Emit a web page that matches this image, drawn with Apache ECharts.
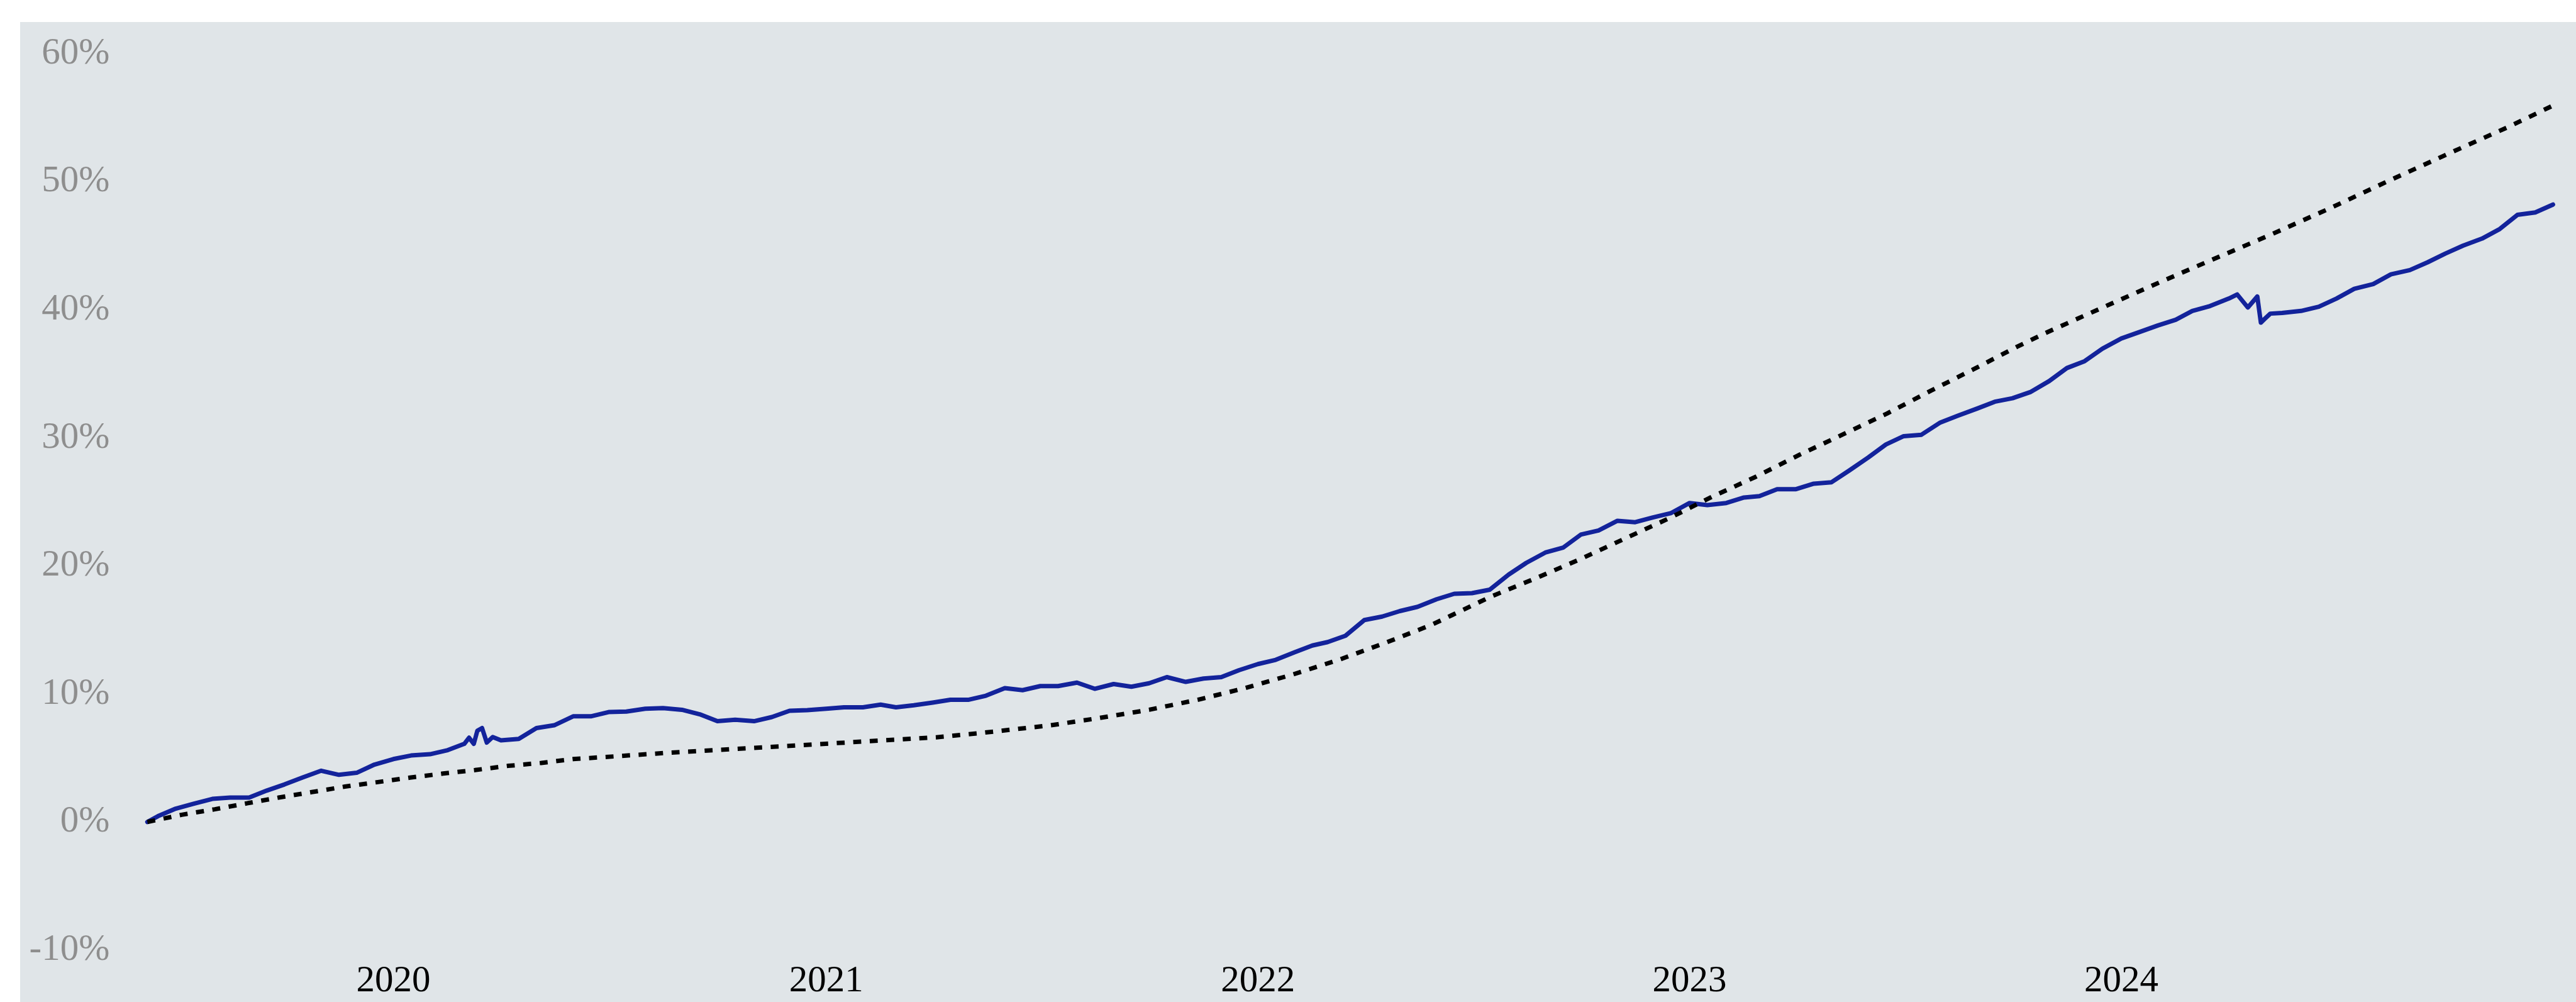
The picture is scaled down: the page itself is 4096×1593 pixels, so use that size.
<!DOCTYPE html>
<html>
<head>
<meta charset="utf-8">
<script src="https://cdn.jsdelivr.net/npm/echarts@6/dist/echarts.min.js"></script>
<style>
html,body{margin:0;padding:0;background:#ffffff;}
#chart{width:4096px;height:1593px;}
</style>
</head>
<body>
<div id="chart"></div>
<script>
// ---------- data ----------
const portfolioDates = [
'2019-06-07','2019-06-16','2019-07-01','2019-07-16','2019-08-01','2019-08-16','2019-09-01','2019-09-16',
'2019-10-01','2019-10-16','2019-11-01','2019-11-16','2019-12-01','2019-12-16',
'2020-01-01','2020-01-16','2020-02-01','2020-02-16','2020-03-01','2020-03-05','2020-03-09','2020-03-12',
'2020-03-16','2020-03-20','2020-03-25','2020-04-01','2020-04-16','2020-05-01','2020-05-16','2020-06-01',
'2020-06-16','2020-07-01','2020-07-16','2020-08-01','2020-08-16','2020-09-01','2020-09-16','2020-10-01',
'2020-10-16','2020-11-01','2020-11-16','2020-12-01','2020-12-16',
'2021-01-01','2021-01-16','2021-02-01','2021-02-16','2021-03-01','2021-03-16','2021-04-01','2021-04-16',
'2021-05-01','2021-05-16','2021-06-01','2021-06-16','2021-07-01','2021-07-16','2021-08-01','2021-08-16',
'2021-09-01','2021-09-16','2021-10-01','2021-10-16','2021-11-01','2021-11-16','2021-12-01','2021-12-16',
'2022-01-01','2022-01-16','2022-02-01','2022-02-16','2022-03-01','2022-03-16','2022-04-01','2022-04-16',
'2022-05-01','2022-05-16','2022-06-01','2022-06-16','2022-07-01','2022-07-16','2022-08-01','2022-08-16',
'2022-09-01','2022-09-16','2022-10-01','2022-10-16','2022-11-01','2022-11-16','2022-12-01','2022-12-16',
'2023-01-01','2023-01-16','2023-02-01','2023-02-16','2023-03-01','2023-03-16','2023-04-01','2023-04-16',
'2023-05-01','2023-05-16','2023-06-01','2023-06-16','2023-07-01','2023-07-16','2023-08-01','2023-08-16',
'2023-09-01','2023-09-16','2023-10-01','2023-10-16','2023-11-01','2023-11-16','2023-12-01','2023-12-16',
'2024-01-01','2024-01-16','2024-02-01','2024-02-16','2024-03-01','2024-03-16','2024-04-01','2024-04-08',
'2024-04-17','2024-04-25','2024-04-28','2024-05-01','2024-05-06','2024-05-16','2024-06-01','2024-06-16',
'2024-07-01','2024-07-16','2024-08-01','2024-08-16','2024-09-01','2024-09-16','2024-10-01','2024-10-16',
'2024-11-01','2024-11-16','2024-12-01','2024-12-16','2024-12-31'
];
const portfolioValues = [
0.00,0.45,1.04,1.42,1.80,1.90,1.90,2.45,
2.93,3.46,4.00,3.68,3.84,4.48,
4.91,5.19,5.29,5.61,6.10,6.58,6.10,7.12,
7.33,6.20,6.63,6.37,6.48,7.33,7.55,8.25,
8.25,8.58,8.62,8.84,8.89,8.76,8.41,7.87,
7.98,7.87,8.19,8.68,8.73,
8.84,8.95,8.95,9.16,8.95,9.11,9.32,9.54,
9.54,9.86,10.45,10.29,10.61,10.61,10.88,10.40,
10.77,10.56,10.83,11.31,10.94,11.20,11.31,11.85,
12.33,12.66,13.25,13.78,14.05,14.54,15.77,16.04,
16.47,16.80,17.39,17.82,17.87,18.14,19.32,20.24,
21.04,21.42,22.44,22.76,23.52,23.41,23.78,24.11,
24.91,24.75,24.91,25.34,25.45,25.99,25.99,26.42,
26.53,27.45,28.46,29.48,30.13,30.24,31.20,31.74,
32.28,32.82,33.09,33.57,34.43,35.45,35.99,36.96,
37.76,38.25,38.78,39.22,39.91,40.29,40.88,41.20,
40.18,41.04,39.00,39.27,39.70,39.75,39.91,40.24,
40.88,41.64,42.01,42.77,43.10,43.71,44.39,45.01,
45.56,46.31,47.42,47.60,48.22
];
const benchmarkDates = [
'2019-06-07','2019-07-06','2019-08-03','2019-08-31','2019-09-26','2019-10-24','2019-11-21','2019-12-17',
'2020-01-15','2020-02-12','2020-03-10','2020-04-07','2020-05-05','2020-06-01','2020-06-28','2020-08-23',
'2020-10-18','2020-12-13','2021-02-07','2021-04-04','2021-05-15','2021-05-29','2021-07-10','2021-08-20',
'2021-10-01','2021-11-11','2021-12-21','2022-01-31','2022-03-11','2022-04-19','2022-05-28','2022-06-14',
'2022-07-17','2022-08-23','2022-09-30','2022-11-07','2022-12-15','2023-01-20','2023-02-26','2023-04-04',
'2023-05-10','2023-06-17','2023-07-24','2023-08-30','2023-10-05','2023-10-29','2023-12-19','2024-02-07',
'2024-03-16','2024-05-05','2024-06-25','2024-08-14','2024-10-03','2024-11-23','2024-12-31'
];
const benchmarkValues = [
0.00,0.56,0.99,1.47,1.90,2.33,2.76,3.09,
3.46,3.78,4.05,4.38,4.61,4.91,5.07,5.42,
5.71,6.01,6.31,6.61,6.98,7.12,7.55,8.12,
8.76,9.54,10.45,11.53,12.68,14.00,15.40,16.15,
17.60,19.00,20.50,22.12,23.73,25.40,26.96,28.68,
30.24,31.90,33.68,35.40,37.12,38.19,40.29,42.33,
43.84,45.81,47.91,50.07,52.17,54.27,55.95
];
const yearTickLabels = ['2020','2021','2022','2023','2024'];
const xRange = ['2019-06-07','2024-12-31'];
const yMin = -10, yMax = 60, yStep = 10;

// ---------- chart ----------
function toTs(s){
  const p = s.split('-').map(Number);
  return Date.UTC(p[0], (p[1] || 1) - 1, p[2] || 1);
}
const FONT = "'Liberation Serif','Times New Roman',serif";
const chart = echarts.init(document.getElementById('chart'), null, {renderer:'canvas', width:4096, height:1593});
const option = {
  animation: false,
  backgroundColor: '#ffffff',
  graphic: {
    elements: [{
      type: 'rect', left: 32, top: 35, z: -100, silent: true,
      shape: {width: 4064, height: 1558},
      style: {fill: '#E0E5E8'}
    }]
  },
  grid: {left: 234.3, right: 36.6, top: 85.4, bottom: 82.7, containLabel: false},
  xAxis: {
    type: 'value',
    min: toTs(xRange[0]),
    max: toTs(xRange[1]),
    axisLine: {show: false},
    axisTick: {show: false},
    splitLine: {show: false},
    axisLabel: {
      customValues: yearTickLabels.map(y => toTs(y + '-01-01')),
      formatter: function (v) { return String(new Date(v).getUTCFullYear()); },
      color: '#000000',
      fontFamily: FONT,
      fontSize: 59,
      margin: 21
    }
  },
  yAxis: {
    type: 'value',
    min: yMin, max: yMax, interval: yStep,
    axisLine: {show: false},
    axisTick: {show: false},
    splitLine: {show: false},
    axisLabel: {
      formatter: '{value}%',
      color: '#8E8E8E',
      fontFamily: FONT,
      fontSize: 59,
      margin: 60
    }
  },
  series: [
    {
      name: 'Benchmark',
      type: 'line',
      data: benchmarkDates.map((d, i) => [toTs(d), benchmarkValues[i]]),
      showSymbol: false,
      symbol: 'none',
      z: 3,
      lineStyle: {color: '#000000', width: 7, type: [12.7, 13.6], cap: 'butt'}
    },
    {
      name: 'Portfolio',
      type: 'line',
      data: portfolioDates.map((d, i) => [toTs(d), portfolioValues[i]]),
      showSymbol: false,
      symbol: 'none',
      z: 2,
      lineStyle: {color: '#13239B', width: 7, join: 'round', cap: 'round'}
    }
  ]
};
chart.setOption(option);
</script>
</body>
</html>
